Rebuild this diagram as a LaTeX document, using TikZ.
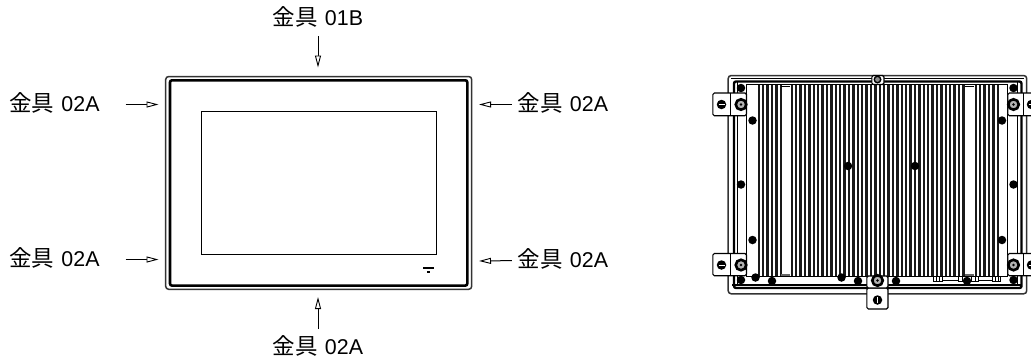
\documentclass[tikz,border=0pt]{standalone}
\usepackage{fontspec}
\setmainfont{Liberation Sans}
\newfontfamily\cjk{Noto Sans CJK JP}
\usetikzlibrary{arrows.meta}
\newcommand{\jg}[1]{{\fontsize{22.5}{24}\cjk 金具}\hspace{7pt}#1}
\tikzset{
  x=1pt,y=-1pt,
  lab/.style={inner sep=0pt,font=\fontsize{21.4}{24}\selectfont,text height=16pt,text depth=2pt},
  arr/.style={line width=1pt,-{Triangle[open,length=12pt,width=6pt,fill=white,line width=.9pt]}},
  outerline/.style={draw=black!80,line width=1.5pt,rounded corners=3pt},
  innerline/.style={draw=black,line width=2.6pt,rounded corners=2pt},
  thinline/.style={draw=black,line width=1pt},
  bolt/.style={circle,fill=black,inner sep=0pt,minimum size=8.5pt},
  ringbolt/.style={circle,draw=black,line width=1.4pt,fill=black!45,inner sep=0pt,minimum size=6.5pt},
  bigbolt/.style={circle,draw=black,line width=2.6pt,fill=black!30,inner sep=0pt,minimum size=10.5pt,
    path picture={\fill[black] (path picture bounding box.center) circle (1.3pt);}},
  slotbolt/.style={circle,fill=black,inner sep=0pt,minimum size=9.5pt,path picture={\draw[white,line width=.8pt] ([xshift=-3pt]path picture bounding box.center) -- ([xshift=3pt]path picture bounding box.center);}},
  slotv/.style={circle,fill=black,inner sep=0pt,minimum size=9.5pt,path picture={\draw[white,line width=.8pt] ([yshift=-3pt]path picture bounding box.center) -- ([yshift=3pt]path picture bounding box.center);}},
  bracket/.style={draw=black,fill=white,line width=1.1pt,rounded corners=1.5pt},
}
\begin{document}
\begin{tikzpicture}
\useasboundingbox (0,0) rectangle (1031,359);
\clip (0,0) rectangle (1031,359);
% front panel
\draw[outerline] (165.7,76.5) rectangle (471.7,289.3);
\draw[innerline] (170,80.3) rectangle (467.3,285.6);
\draw[thinline] (201.5,111.7) rectangle (436,254.7);
\fill (422.5,266.8) rectangle (433.5,269.2);
\fill (426.5,270.5) rectangle (429.5,273);
% tips
\coordinate (t1) at (318,67.5);
\coordinate (t2) at (158.5,104.5);
\coordinate (t3) at (158.5,259.5);
\coordinate (t4) at (479,104.5);
\coordinate (t5) at (479,261);
\coordinate (t6) at (318,297);
% labels
\node[lab,outer ysep=9pt] (l1) at (318,18) {\jg{01B}};
\node[lab,outer xsep=26pt] (l2) at (54.5,104.5) {\jg{02A}};
\node[lab,outer xsep=26pt] (l3) at (54.5,259.5) {\jg{02A}};
\node[lab,outer xsep=6pt] (l4) at (563,104.5) {\jg{02A}};
\node[lab,outer xsep=6pt] (l5) at (563,260) {\jg{02A}};
\node[lab,outer ysep=9pt] (l6) at (318,347) {\jg{02A}};
\foreach \a/\b in {l1/t1,l2/t2,l3/t3,l4/t4,l5/t5,l6/t6} \draw[arr] (\a) -- (\b);
% rear view: frame
\draw[outerline] (728.2,75.5) rectangle (1026.7,293.8);
\draw[draw=black,line width=2.4pt,rounded corners=2pt] (734,81.5) rectangle (1021.5,288);
\draw[line width=1.2pt] (731,78.5) -- (1024,78.5);
\draw[line width=2pt] (732,284.5) -- (1022,284.5);
\draw[line width=1.2pt] (737.5,82) -- (737.5,284);
\draw[line width=1.2pt] (1017.5,82) -- (1017.5,284);
% back plate
\draw[line width=1pt] (746.8,84.5) rectangle (1007.5,276);
% fins
\foreach \f in {757.5,761.9,...,780} {\fill[black!90] (\f,85) rectangle +(2.5,191);}
\foreach \f in {790.5,794.9,...,964} {\fill[black!90] (\f,85) rectangle +(2.5,191);}
\foreach \f in {974.5,978.9,...,997} {\fill[black!90] (\f,85) rectangle +(2.5,191);}
\draw[line width=.9pt] (781,86.5) -- (790,86.5) (965,86.5) -- (974,86.5);
\fill[black!60] (781,273.5) rectangle (790,276);
\fill[black!60] (965,273.5) rectangle (974,276);
\draw[line width=1.4pt] (746.8,84.5) -- (1007.5,84.5);
% connectors along the bottom edge
\draw[line width=.8pt] (933,276) rectangle (942,281.5);
\draw[line width=.8pt] (958,276) rectangle (978,281.5);
\draw[line width=.8pt] (992,276) rectangle (1000,281.5);
\draw[line width=.8pt] (942,280) -- (958,280) (978,280) -- (992,280);
\draw[line width=.8pt] (936,276) -- (936,281.5) (939,276) -- (939,281.5)
  (962,276) -- (962,281.5) (966,276) -- (966,281.5) (971,276) -- (971,281.5) (975,276) -- (975,281.5)
  (995,276) -- (995,281.5) (998,276) -- (998,281.5);
% brackets
\draw[bracket] (712.8,93) rectangle (746.5,115.7);
\draw[line width=1pt] (730.5,93) -- (730.5,115.7);
\draw[bracket] (712.8,253.5) rectangle (746.5,275.7);
\draw[line width=1pt] (730.5,253.5) -- (730.5,275.7);
\draw[bracket] (1007.8,93) rectangle (1045,115.7);
\draw[line width=1pt] (1023.5,93) -- (1023.5,115.7);
\draw[bracket] (1007.8,253.5) rectangle (1045,275.7);
\draw[line width=1pt] (1023.5,253.5) -- (1023.5,275.7);
\draw[bracket] (866.8,288) rectangle (888,309);
\draw[bracket] (866.8,276) rectangle (888,288);
\draw[bracket] (871.8,75.5) rectangle (884,84.5);
% bolts
\node[bigbolt] (b1) at (741,104.5) {};
\node[slotbolt] (b2) at (721.5,104.5) {};
\node[bigbolt] (b3) at (741,265) {};
\node[slotbolt] (b4) at (721.5,265) {};
\node[bigbolt] (b5) at (1013.5,104.5) {};
\node[slotbolt] (b6) at (1031.5,104.5) {};
\node[bigbolt] (b7) at (1013.5,265) {};
\node[slotbolt] (b8) at (1031.5,265) {};
\node[ringbolt] (b9) at (877.5,79.5) {};
\node[bigbolt] (b10) at (877.5,280.5) {};
\node[slotv] (b11) at (877.5,300) {};
\foreach \n/\p in {c1/{741,88},c2/{741,184.5},c3/{752.5,120.5},c4/{752.5,240},c5/{741,280},
  c6/{1013.5,88},c7/{1013.5,184.5},c8/{1002,120.5},c9/{1002,240},c10/{1013.5,280},
  c11/{848,166},c12/{915,166},c13/{755.5,277.5},c14/{772,281},c15/{841.5,277.5},
  c16/{858,281},c17/{896,281},c18/{967,281}}
  \node[bolt] (\n) at (\p) {};
\end{tikzpicture}
\end{document}
